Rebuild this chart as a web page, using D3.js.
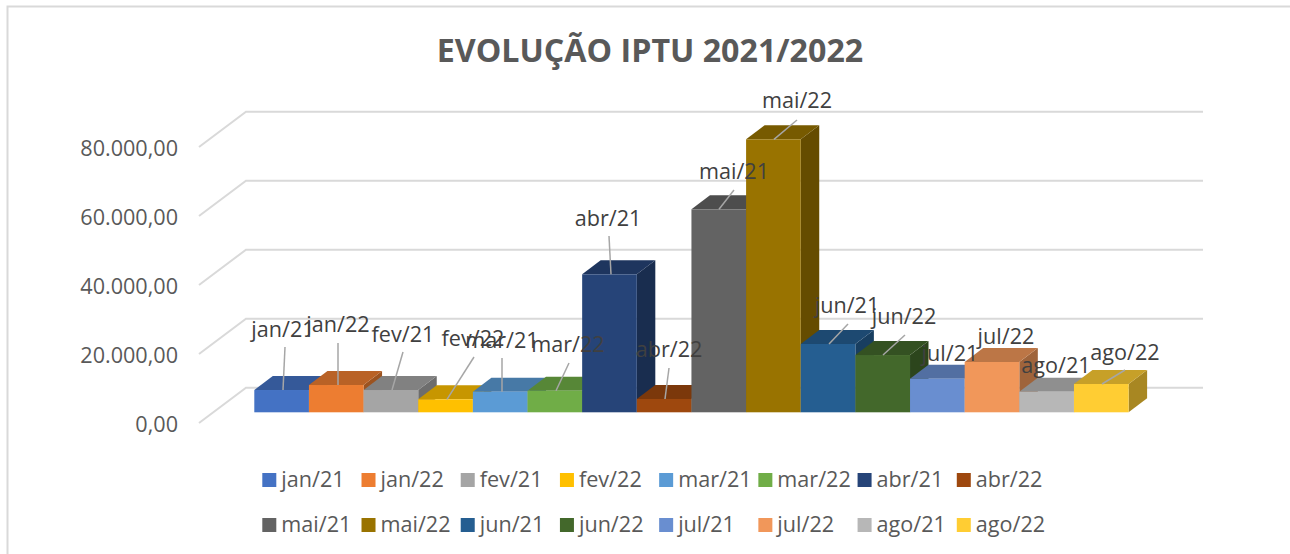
<!DOCTYPE html>
<html><head><meta charset="utf-8">
<script src="https://cdn.jsdelivr.net/npm/d3@7"></script>
<style>html,body{margin:0;padding:0;background:#fff;overflow:hidden}svg{display:block}</style></head>
<body><svg id="c" width="1290" height="554"></svg>
<script>
const categories=["jan/21","jan/22","fev/21","fev/22","mar/21","mar/22","abr/21","abr/22","mai/21","mai/22","jun/21","jun/22","jul/21","jul/22","ago/21","ago/22"];
const values=[6460,7910,6460,3770,5970,6260,40000,3860,58840,79130,19800,16600,9740,14580,5970,8200];
const colors=["#4472c4","#ed7d31","#a5a5a5","#ffc000","#5b9bd5","#70ad47","#264478","#9e480e","#636363","#997300","#255e91","#43682b","#698ed0","#f1975a","#b7b7b7","#ffcd33"];
const yTicks=[0,20000,40000,60000,80000];
const title="EVOLUÇÃO IPTU 2021/2022";
// layout only: label centre/baseline and leader start (null = no leader)
const labelPos=[[283,337],[338,332],[403,342],[473,346],[502,348],[568,352],[608,226],[669,357],[734,179],[797,108],[847,313],[904,324],[950,361],[1006,344],[1056,373],[1125,360]];
const leaderFrom=[[285,347],[338,343],[403,352],[474,357],[502,358],[569,363],[609,236],[669,368],[734,190],[797,120],[848,324],[905,335],null,null,null,[1125,370]];
const leaderToX=[283,338,392,447,502,556,611,665,719,774,829,883,null,null,null,1102];

const svg=d3.select("#c");
const font="'Open Sans',sans-serif";
const W=1290,H=554;
svg.append("path").attr("d",`M7.5,${H}V6.5H${W}`).attr("fill","none").attr("stroke","#d9d9d9").attr("stroke-width",2);

svg.append("text").attr("x",650).attr("y",62).attr("text-anchor","middle")
  .attr("font-family",font).attr("font-weight",700).attr("font-size",32.2).attr("fill","#595959").text(title);

const y=d3.scaleLinear().domain([0,80000]).range([412.3,136.3]);
const x=d3.scaleBand().domain(categories).range([254.3,1128.6]);
const dx=18.5,dy=-14;
const floorFront={x:199,dy:10.7},floorBack={x:246,dy:-24.6},gridEnd=1203;

svg.append("g").selectAll("path").data(yTicks).join("path")
  .attr("d",v=>d3.line()([[floorFront.x,y(v)+floorFront.dy],[floorBack.x,y(v)+floorBack.dy],[gridEnd,y(v)+floorBack.dy]]))
  .attr("fill","none").attr("stroke","#d9d9d9").attr("stroke-width",2);

const fmt=d3.formatLocale({decimal:",",thousands:".",grouping:[3],currency:["",""]}).format(",.2f");
const ax=svg.append("g").attr("transform",`translate(178,${floorFront.dy+1.5})`)
  .call(d3.axisLeft(y).tickValues(yTicks).tickFormat(fmt).tickSize(0).tickPadding(0));
ax.select(".domain").remove();
ax.selectAll("text").attr("font-family",font).attr("font-size",21.6).attr("fill","#595959");

const shade=(c,k)=>{const r=d3.rgb(c);return d3.rgb(r.r*k,r.g*k,r.b*k).formatHex();};
const y0=y(0);
const bars=svg.append("g").selectAll("g").data(categories).join("g");
bars.append("path").attr("fill",(d,i)=>shade(colors[i],0.66))
  .attr("d",(d,i)=>{const r=x(d)+x.bandwidth(),t=y(values[i]);return `M${r},${t}L${r+dx},${t+dy}V${y0+dy}L${r},${y0}Z`;});
bars.append("path").attr("fill",(d,i)=>shade(colors[i],0.78))
  .attr("d",(d,i)=>{const l=x(d),r=l+x.bandwidth(),t=y(values[i]);return `M${l},${t}L${l+dx},${t+dy}H${r+dx}L${r},${t}Z`;});
bars.append("rect").attr("x",d=>x(d)).attr("width",x.bandwidth())
  .attr("y",(d,i)=>y(values[i])).attr("height",(d,i)=>y0-y(values[i]))
  .attr("fill",(d,i)=>colors[i]);

svg.append("g").selectAll("line").data(categories.map((d,i)=>i).filter(i=>leaderFrom[i])).join("line")
  .attr("x1",i=>leaderFrom[i][0]).attr("y1",i=>leaderFrom[i][1])
  .attr("x2",i=>leaderToX[i]).attr("y2",i=>y(values[i]))
  .attr("stroke","#a6a6a6").attr("stroke-width",1.5);

svg.append("g").selectAll("text").data(categories).join("text")
  .attr("x",(d,i)=>labelPos[i][0]).attr("y",(d,i)=>labelPos[i][1]).attr("text-anchor","middle")
  .attr("font-family",font).attr("font-size",21.6).attr("fill","#404040").text(d=>d);

const legendX=d3.scaleBand().domain(d3.range(8)).range([262.3,1056]);
const legendY=d3.scalePoint().domain([0,1]).range([480,525]);
const lg=svg.append("g").selectAll("g").data(categories).join("g")
  .attr("transform",(d,i)=>`translate(${legendX(i%8)},${legendY(Math.floor(i/8))})`);
lg.append("rect").attr("y",-7).attr("width",14).attr("height",14).attr("fill",(d,i)=>colors[i]);
lg.append("text").attr("x",19).attr("y",7).attr("font-family",font).attr("font-size",21.6).attr("fill","#595959").text(d=>d);
</script></body></html>
